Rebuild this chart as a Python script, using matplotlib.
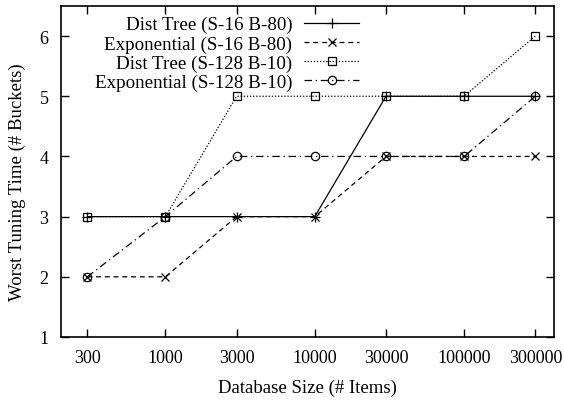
import matplotlib
matplotlib.use("Agg")
import matplotlib.pyplot as plt
from matplotlib.ticker import FixedLocator, FixedFormatter, NullLocator

plt.rcParams['font.family'] = ['Liberation Serif', 'DejaVu Serif']

sizes = [300, 1000, 3000, 10000, 30000, 100000, 300000]
size_labels = ['300', '1000', '3000', '10000', '30000', '100000', '300000']

dist_tree_s16 = [3, 3, 3, 3, 5, 5, 5]
exponential_s16 = [2, 2, 3, 3, 4, 4, 4]
dist_tree_s128 = [3, 3, 5, 5, 5, 5, 6]
exponential_s128 = [2, 3, 4, 4, 4, 4, 5]

labels = ['Dist Tree (S-16 B-80)', 'Exponential (S-16 B-80)',
          'Dist Tree (S-128 B-10)', 'Exponential (S-128 B-10)']

W, H = 564, 402
left, right, top, bottom = 61, 554, 7, 338
fig = plt.figure(figsize=(W / 100, H / 100), dpi=100)
ax = fig.add_axes([left / W, 1 - bottom / H, (right - left) / W, (bottom - top) / H])

fs = 13
lw = 0.9
ms = 6
ax.plot(sizes, dist_tree_s16, color='black', lw=lw, linestyle='-',
        marker='+', ms=ms + 1, mew=lw, label=labels[0])
ax.plot(sizes, exponential_s16, color='black', lw=lw, linestyle=(0, (4, 3)),
        marker='x', ms=ms, mew=lw, label=labels[1])
ax.plot(sizes, dist_tree_s128, color='black', lw=lw, linestyle=(0, (1, 1.5)),
        marker='s', ms=ms, mew=lw, mfc='none', label=labels[2])
ax.plot(sizes, exponential_s128, color='black', lw=lw,
        linestyle=(0, (6, 3, 1, 3)),
        marker='o', ms=ms, mew=lw, mfc='none', label=labels[3])

ax.set_xscale('log')
ax.set_xlim(200, 400000)
ax.set_ylim(1, 6.5)
ax.xaxis.set_major_locator(FixedLocator(sizes))
ax.xaxis.set_major_formatter(FixedFormatter(size_labels))
ax.xaxis.set_minor_locator(NullLocator())
ax.set_yticks([1, 2, 3, 4, 5, 6])

ax.tick_params(axis='both', which='major', direction='in', length=6,
               width=1, top=True, right=True, labelsize=fs)
ax.tick_params(axis='x', pad=9)
ax.tick_params(axis='y', pad=9)
for s in ax.spines.values():
    s.set_linewidth(1.2)

ax.set_xlabel('Database Size (# Items)', fontsize=13.5, labelpad=9)
ax.set_ylabel('Worst Tuning Time (# Buckets)', fontsize=13.5, va='center')
ax.yaxis.set_label_coords(17 / W, 1 - 182 / H, transform=fig.transFigure)

# legend: right-aligned labels followed by line samples, anchored near top
anchor = ax.transAxes.inverted().transform(fig.transFigure.transform(
    ((359 + 2) / W, 1 - 15 / H)))
leg = ax.legend(loc='upper right', bbox_to_anchor=tuple(anchor), frameon=False,
                markerfirst=False, fontsize=13.7, handlelength=2.9,
                labelspacing=0.1, handletextpad=0.6, borderaxespad=0.0,
                borderpad=0.1)
for col in leg._legend_handle_box.get_children():
    col.align = 'right'

fig.savefig('out.png', dpi=100)
